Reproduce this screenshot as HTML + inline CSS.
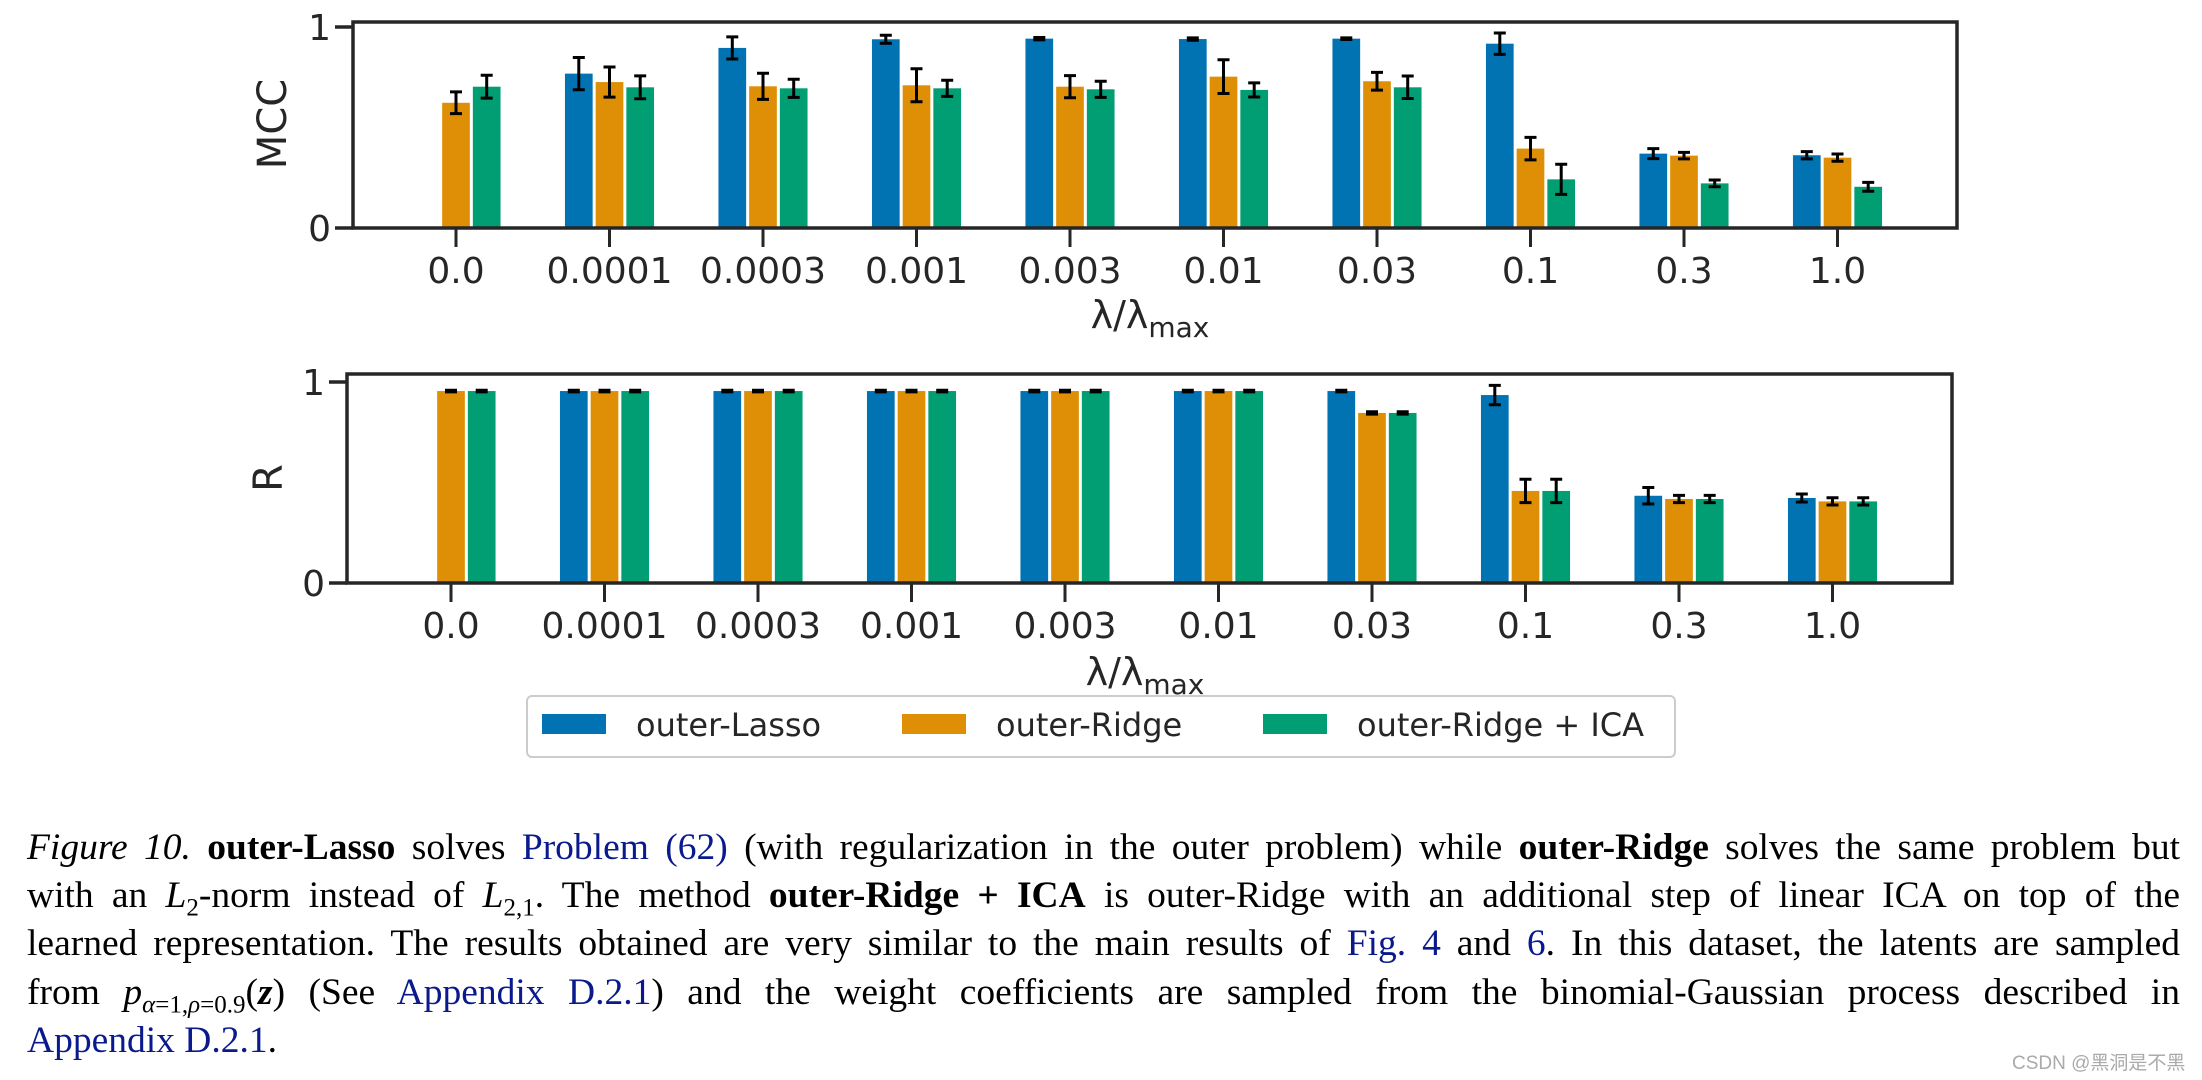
<!DOCTYPE html>
<html><head><meta charset="utf-8">
<style>
html,body{margin:0;padding:0;background:#fff;width:2202px;height:1080px;overflow:hidden;position:relative}
svg{position:absolute;left:0;top:0}
.cap{position:absolute;left:27px;width:2153px;font-family:"Liberation Serif",serif;font-size:37.5px;color:#000;text-align:justify;text-align-last:justify;white-space:nowrap;line-height:48px}
.cap.last{text-align-last:left}
.lnk{color:#0a1a8c}
sub{font-size:25px;line-height:0}
.wm{position:absolute;left:2012px;top:1048px;font-family:"Liberation Sans","Noto Sans CJK SC",sans-serif;font-size:19px;color:#aaa}
</style></head><body>
<svg id="chart" width="2202" height="1080" xmlns="http://www.w3.org/2000/svg"></svg>
<div class="cap" style="top:824px"><i>Figure 10.</i> <b>outer-Lasso</b> solves <span class="lnk">Problem (62)</span> (with regularization in the outer problem) while <b>outer-Ridge</b> solves the same problem but</div>
<div class="cap" style="top:872px">with an <i>L</i><sub>2</sub>-norm instead of <i>L</i><sub>2,1</sub>. The method <b>outer-Ridge + ICA</b> is outer-Ridge with an additional step of linear ICA on top of the</div>
<div class="cap" style="top:920px">learned representation. The results obtained are very similar to the main results of <span class="lnk">Fig. 4</span> and <span class="lnk">6</span>. In this dataset, the latents are sampled</div>
<div class="cap" style="top:969px">from <i>p</i><sub><i>α</i>=1,<i>ρ</i>=0.9</sub>(<b><i>z</i></b>) (See <span class="lnk">Appendix D.2.1</span>) and the weight coefficients are sampled from the binomial-Gaussian process described in</div>
<div class="cap last" style="top:1017px"><span class="lnk">Appendix D.2.1</span>.</div>
<div class="wm">CSDN @黑洞是不黑</div>
<script>
const categories = ["0.0","0.0001","0.0003","0.001","0.003","0.01","0.03","0.1","0.3","1.0"];
const seriesNames = ["outer-Lasso","outer-Ridge","outer-Ridge + ICA"];
const mccLasso = [null,0.768,0.896,0.939,0.942,0.94,0.942,0.917,0.37,0.362];
const mccLassoErr = [0,0.08,0.055,0.02,0.006,0.006,0.004,0.053,0.025,0.018];
const mccRidge = [0.623,0.726,0.705,0.71,0.703,0.753,0.73,0.395,0.36,0.35];
const mccRidgeErr = [0.054,0.075,0.065,0.082,0.055,0.084,0.044,0.056,0.016,0.018];
const mccICA = [0.703,0.70,0.695,0.695,0.69,0.687,0.70,0.242,0.222,0.205];
const mccICAErr = [0.057,0.057,0.045,0.04,0.04,0.035,0.056,0.075,0.017,0.022];
const rLasso = [null,0.955,0.955,0.955,0.955,0.955,0.955,0.935,0.434,0.423];
const rLassoErr = [0,0.004,0.004,0.004,0.004,0.004,0.004,0.048,0.041,0.02];
const rRidge = [0.955,0.955,0.955,0.955,0.955,0.955,0.846,0.458,0.418,0.406];
const rRidgeErr = [0.004,0.004,0.004,0.004,0.004,0.004,0.006,0.058,0.018,0.018];
const rICA = [0.955,0.955,0.955,0.955,0.955,0.955,0.846,0.458,0.418,0.406];
const rICAErr = [0.004,0.004,0.004,0.004,0.004,0.004,0.006,0.058,0.018,0.018];
const yTicks = [0,1];
const colors = ["#0173b2","#de8f05","#029e73"];

const NS="http://www.w3.org/2000/svg";
const svg=document.getElementById('chart');
function mk(tag,attrs,parent){const e=document.createElementNS(NS,tag);for(const k in attrs)e.setAttribute(k,attrs[k]);(parent||svg).appendChild(e);return e;}

function panel(cfg){
  const g=mk('g',{});
  
  
  const xPos=i=>cfg.x0+cfg.step*i;
  const yPos=v=>cfg.bottom-cfg.unit*v;
  const bw=cfg.step*0.2;
  cfg.series.forEach((vals,s)=>{
    vals.forEach((v,i)=>{
      if(v===null)return;
      const cx=xPos(i)+(s-1)*bw;
      const r=mk('rect',{x:cx-bw/2+1.5,y:yPos(v),width:bw-3,height:yPos(0)-yPos(v),fill:colors[s]},g);
      
      
      const e=cfg.errs[s][i];
      const el=mk('path',{d:`M${cx},${yPos(v+e)}V${yPos(v-e)}M${cx-6},${yPos(v+e)}H${cx+6}M${cx-6},${yPos(v-e)}H${cx+6}`,stroke:'#000','stroke-width':3,fill:'none'},g);
      
      
    });
  });
  const f=mk('rect',{x:cfg.left,y:cfg.top,width:cfg.right-cfg.left,height:cfg.bottom-cfg.top,fill:'none',stroke:'#262626','stroke-width':3.5},g);
  
  
  yTicks.forEach(t=>{
    mk('line',{x1:cfg.left-18,x2:cfg.left,y1:yPos(t),y2:yPos(t),stroke:'#262626','stroke-width':3.5},g);
    const tx=mk('text',{x:cfg.left-22,y:yPos(t)+13,'text-anchor':'end','font-family':'DejaVu Sans, sans-serif','font-size':36,fill:'#262626'},g);
    tx.textContent=t;
    
    
  });
  categories.forEach((c,i)=>{
    mk('line',{x1:xPos(i),x2:xPos(i),y1:cfg.bottom,y2:cfg.bottom+19,stroke:'#262626','stroke-width':3},g);
    const tx=mk('text',{x:xPos(i),y:cfg.bottom+55,'text-anchor':'middle','font-family':'DejaVu Sans, sans-serif','font-size':36,fill:'#262626'},g);
    tx.textContent=c;
    
    
  });
  const yl=mk('text',{x:0,y:0,transform:`translate(${cfg.ylx},${cfg.yly}) rotate(-90)`,'text-anchor':'middle','font-family':'DejaVu Sans, sans-serif','font-size':40,fill:'#262626'},g);
  yl.textContent=cfg.ylabel;
  
  
  const xl=mk('text',{x:cfg.xlx,y:cfg.xly,'text-anchor':'middle','font-family':'DejaVu Sans, sans-serif','font-size':38,fill:'#262626'},g);
  
  
  const t1=mk('tspan',{},xl);t1.textContent='λ/λ';
  const t2=mk('tspan',{'font-size':28,dy:9},xl);t2.textContent='max';
}
panel({name:'mcc-panel',key:'mcc',x0:456,step:153.5,left:353,right:1957,top:22,bottom:228,unit:201,
  series:[mccLasso,mccRidge,mccICA],errs:[mccLassoErr,mccRidgeErr,mccICAErr],ylabel:'MCC',ylx:286,yly:124,xlx:1150,xly:328});
panel({name:'r-panel',key:'r',x0:451,step:153.5,left:347,right:1952,top:374,bottom:583,unit:201,
  series:[rLasso,rRidge,rICA],errs:[rLassoErr,rRidgeErr,rICAErr],ylabel:'R',ylx:282,yly:478,xlx:1145,xly:685});

const lg=mk('g',{});


mk('rect',{x:527,y:696,width:1148,height:61,rx:5,fill:'#fff',stroke:'#ccc','stroke-width':2},lg);
const lx=[542,902,1263];
seriesNames.forEach((n,s)=>{
  const p=mk('rect',{x:lx[s],y:714,width:64,height:20,fill:colors[s]},lg);
  
  
  const t=mk('text',{x:lx[s]+94,y:736,'font-family':'DejaVu Sans, sans-serif','font-size':32,fill:'#262626'},lg);
  t.textContent=n;
  
  
});
</script>
</body></html>
